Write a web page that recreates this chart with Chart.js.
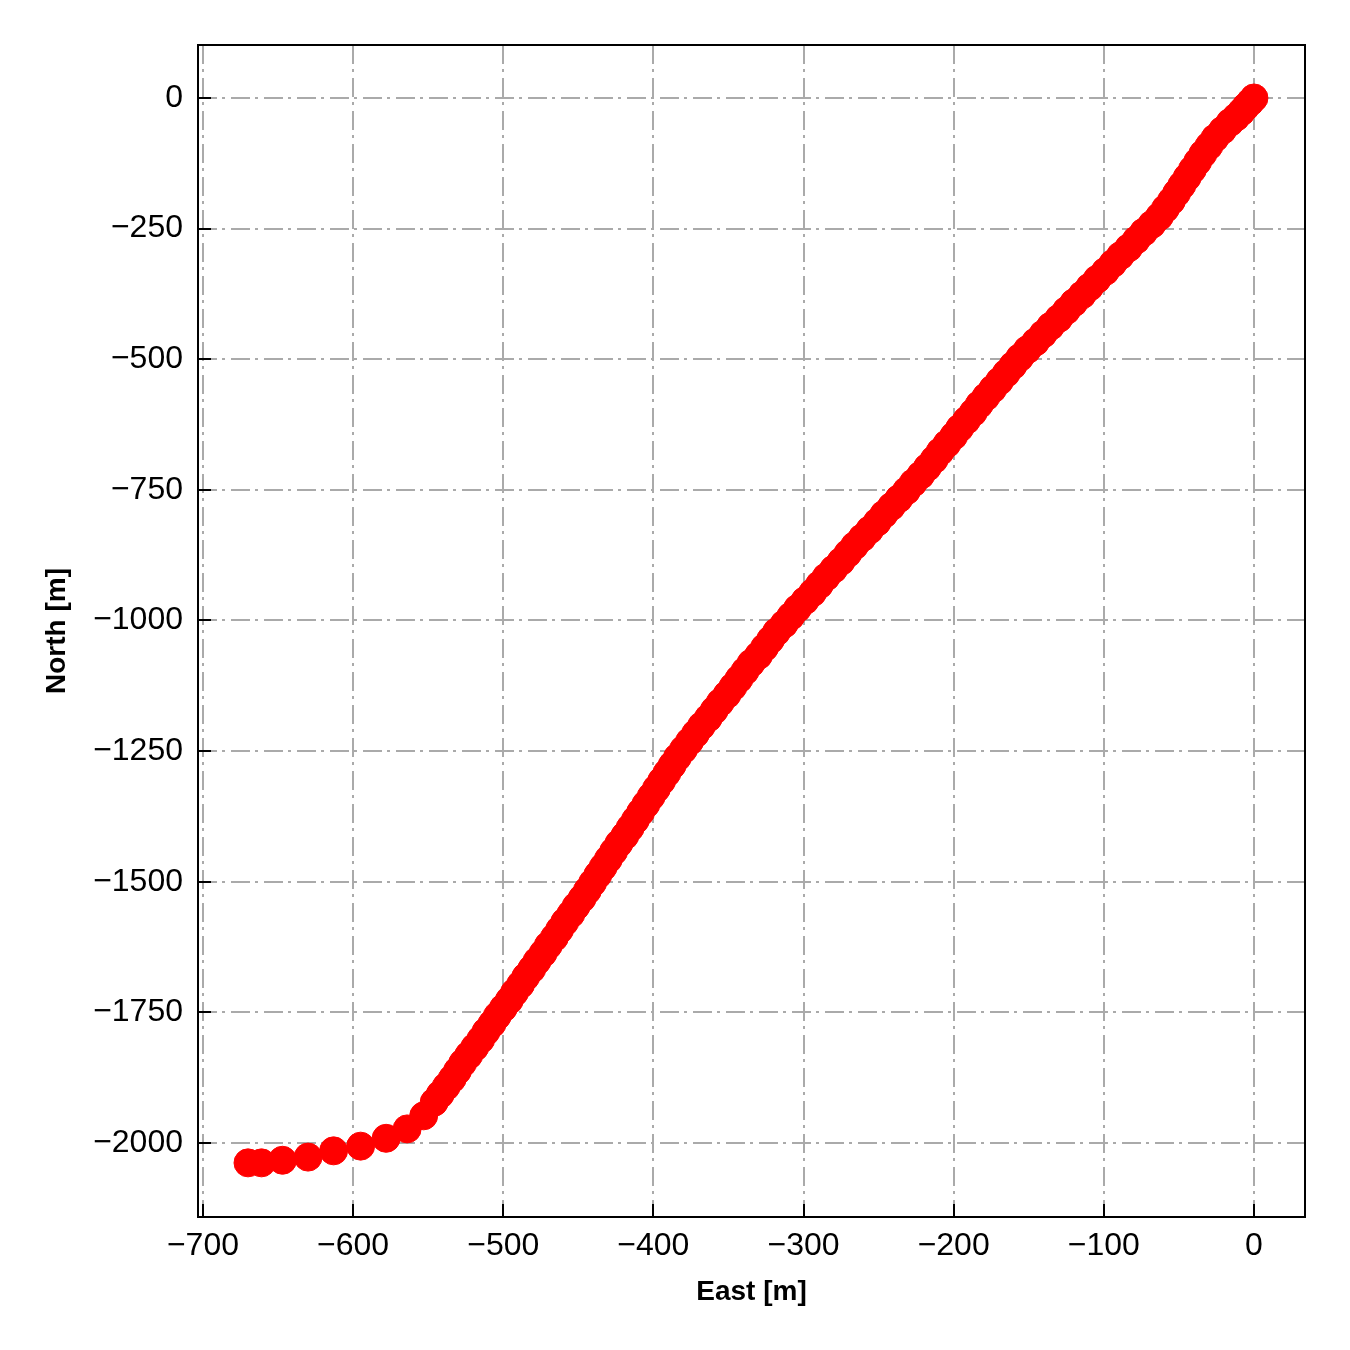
<!DOCTYPE html>
<html>
<head>
<meta charset="utf-8">
<script src="https://cdn.jsdelivr.net/npm/chart.js@4/dist/chart.umd.min.js"></script>
<style>
  html, body { margin: 0; padding: 0; background: #fff; }
  #wrap { width: 1350px; height: 1350px; }
</style>
</head>
<body>
<div id="wrap"><canvas id="trackChart" width="1350" height="1350"></canvas></div>
<script>
// track positions (metres)
const eastValues = [
  -670, -661, -647, -630, -613, -595, -578, -564, -553, -546,
  -542, -538, -534, -530.5, -527, -523, -519, -515, -511.5, -507.5,
  -504, -500, -496, -492.5, -488.5, -485, -481, -477.5, -473.5, -470,
  -466, -462.5, -459, -455, -451.5, -447.5, -444, -440.5, -437, -433.5,
  -430, -426.5, -423, -419, -415.5, -412, -408.5, -405, -401.5, -398,
  -394.5, -391, -387.5, -384, -380, -376, -372, -368, -363.5, -359.5,
  -355.5, -351, -347, -343, -339, -335, -330, -326, -322, -318,
  -313, -308.5, -304, -299, -294, -289.5, -285, -280, -275, -270.5,
  -266, -261, -256, -251, -246.5, -241.5, -236.5, -231.5, -227, -222,
  -217.5, -213, -209, -204.5, -200, -196, -191.5, -187, -183, -178.5,
  -174, -169.5, -165, -160.5, -156, -151, -145.5, -140.5, -135.5, -130,
  -125, -120, -114.5, -109.5, -104.5, -99, -94, -89, -83.5, -78.5,
  -73.5, -68, -63, -59, -55, -51.5, -48, -44.5, -41, -37.5,
  -34, -30, -26, -21, -16, -12, -8.5, -5.5, -2.5, 0
];
const northValues = [
  -2038, -2038, -2033, -2027, -2015, -2006, -1991, -1973, -1948, -1922,
  -1907, -1892, -1877, -1862, -1847, -1832, -1817, -1802, -1787, -1772,
  -1757, -1742, -1727, -1712, -1697, -1682, -1667, -1652, -1637, -1622,
  -1607, -1592, -1577, -1562, -1547, -1532, -1517, -1502, -1487, -1472,
  -1457, -1442, -1427, -1412, -1397, -1382, -1367, -1352, -1337, -1322,
  -1307, -1292, -1277, -1262, -1247, -1232, -1217, -1202, -1187, -1172,
  -1157, -1142, -1127, -1112, -1097, -1082, -1067, -1052, -1037, -1022,
  -1007, -992, -977, -962, -947, -932, -917, -902, -887, -872,
  -857, -842, -827, -812, -797, -782, -767, -752, -737, -722,
  -707, -692, -677, -662, -647, -632, -617, -602, -587, -572,
  -557, -542, -527, -512, -497, -482, -467, -452, -437, -422,
  -407, -392, -377, -362, -347, -332, -317, -302, -287, -272,
  -257, -242, -227, -212, -197, -182, -167, -152, -137, -122,
  -107, -92, -77, -62, -47, -37, -27, -17, -8, 0
];
const eastTicks = [-700, -600, -500, -400, -300, -200, -100, 0];
const northTicks = [-2000, -1750, -1500, -1250, -1000, -750, -500, -250, 0];

const points = eastValues.map((e, i) => ({ x: e, y: northValues[i] }));
const fmt = v => String(v).replace('-', '\u2212');
const tickFont = { family: 'Liberation Sans, Arial, sans-serif', size: 32 };
const titleFont = { family: 'Liberation Sans, Arial, sans-serif', size: 28, weight: 'bold', lineHeight: 1 };
const gridDash = [19, 5, 3, 6];

// matplotlib-style frame with inward ticks
const framePlugin = {
  id: 'frame',
  afterDraw(chart) {
    const { ctx, chartArea: a, scales } = chart;
    ctx.save();
    ctx.strokeStyle = '#000';
    ctx.lineWidth = 2;
    ctx.beginPath();
    eastTicks.forEach(v => {
      const px = Math.round(scales.x.getPixelForValue(v));
      ctx.moveTo(px, a.bottom);
      ctx.lineTo(px, a.bottom - 13);
    });
    northTicks.forEach(v => {
      const py = Math.round(scales.y.getPixelForValue(v));
      ctx.moveTo(a.left, py);
      ctx.lineTo(a.left + 13, py);
    });
    ctx.stroke();
    ctx.strokeRect(a.left, a.top, a.right - a.left, a.bottom - a.top);
    ctx.restore();
  }
};

new Chart(document.getElementById('trackChart').getContext('2d'), {
  type: 'scatter',
  data: {
    datasets: [{
      data: points,
      backgroundColor: '#ff0000',
      borderColor: '#ff0000',
      borderWidth: 1,
      pointRadius: 14,
      pointHoverRadius: 14
    }]
  },
  options: {
    responsive: false,
    animation: false,
    devicePixelRatio: 1,
    layout: { padding: { top: 45, right: 45, left: 0, bottom: 0 } },
    plugins: { legend: { display: false }, tooltip: { enabled: false } },
    scales: {
      x: {
        type: 'linear',
        min: -703.3,
        max: 34,
        afterFit: s => { s.height = 133; },
        afterBuildTicks: s => { s.ticks = eastTicks.map(v => ({ value: v })); },
        grid: { color: '#aaaaaa', lineWidth: 2, drawTicks: false },
        border: { display: false, dash: gridDash },
        ticks: { color: '#000', font: tickFont, padding: 10, maxRotation: 0, callback: fmt },
        title: { display: true, text: 'East [m]', color: '#000', font: titleFont, padding: { bottom: 44 } }
      },
      y: {
        type: 'linear',
        min: -2141.6,
        max: 101.4,
        afterFit: s => { s.width = 198; },
        afterBuildTicks: s => { s.ticks = northTicks.map(v => ({ value: v })); },
        grid: { color: '#aaaaaa', lineWidth: 2, drawTicks: false },
        border: { display: false, dash: gridDash },
        ticks: { color: '#000', font: tickFont, padding: 15, callback: fmt },
        title: { display: true, text: 'North [m]', color: '#000', font: titleFont, padding: { top: 43 } }
      }
    }
  },
  plugins: [framePlugin]
});
</script>
</body>
</html>
